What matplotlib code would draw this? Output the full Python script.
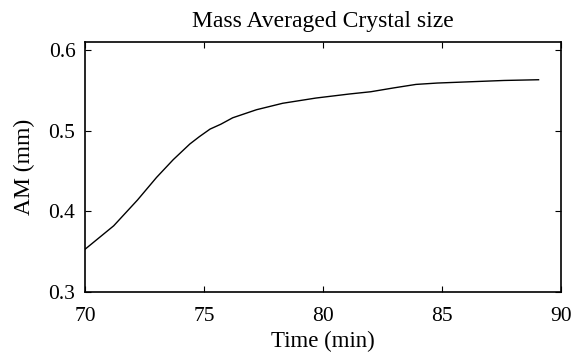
import numpy as np
import matplotlib
matplotlib.use("Agg")
from matplotlib import pyplot as plt

# values
time_min = [70.0, 71.2, 72.2, 73.0, 73.7, 74.4, 74.8, 75.25, 75.7, 76.2,
            77.2, 78.3, 79.7, 81.1, 82.0, 82.95, 83.9, 84.8, 86.2, 87.6, 89.05]
am_mm = [0.353, 0.382, 0.414, 0.442, 0.464, 0.4835, 0.4926, 0.502, 0.508,
         0.516, 0.526, 0.534, 0.5405, 0.5455, 0.5483, 0.553, 0.5574, 0.5591,
         0.5607, 0.5623, 0.5632]

x_ticks = [70, 75, 80, 85, 90]
y_ticks = [0.3, 0.4, 0.5, 0.6]

plt.rcParams["font.family"] = ["Liberation Serif", "DejaVu Serif"]

fig = plt.figure(figsize=(5.87, 3.56), dpi=100)
ax = fig.add_axes([0.145, 0.18, 0.811, 0.702])

ax.plot(time_min, am_mm, "k-", linewidth=1.0)

ax.set_xlim(70, 90)
ax.set_ylim(0.3, 0.61)
ax.set_xticks(x_ticks)
ax.set_yticks(y_ticks)
ax.set_yticklabels([format(v, ".1f") for v in y_ticks])
ax.tick_params(direction="in", top=True, right=True, labelsize=15.5,
               length=4, width=0.8)
ax.tick_params(axis="x", pad=10.5)
ax.tick_params(axis="y", pad=7)
for s in ax.spines.values():
    s.set_linewidth(1.2)

ax.set_xlabel("Time (min)", fontsize=16.5, labelpad=4)
ax.set_ylabel("AM (mm)", fontsize=17, labelpad=9.5)
ax.set_title("Mass Averaged Crystal size", fontsize=17, pad=10.5)

fig.savefig("out.png", dpi=100)
